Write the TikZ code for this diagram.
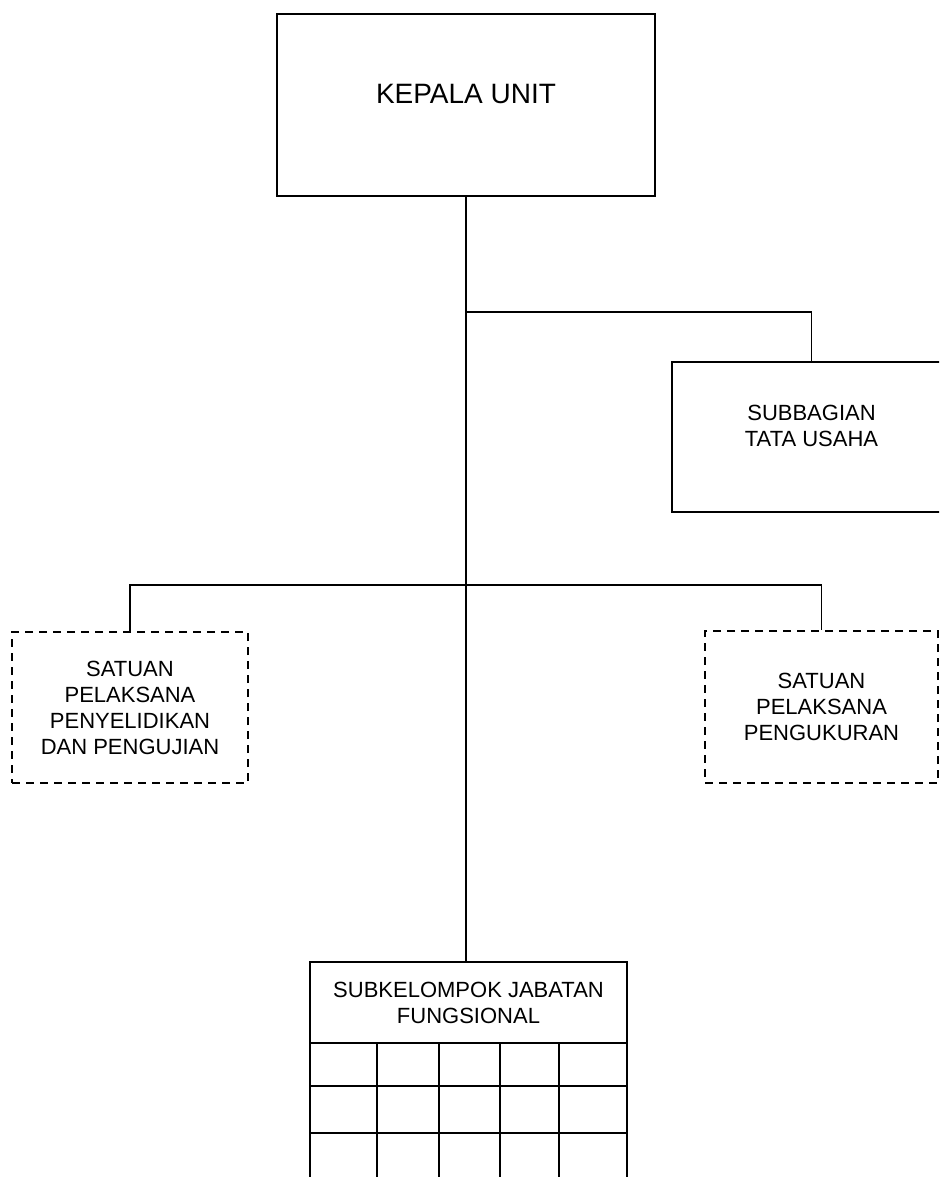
\documentclass[tikz,border=0pt]{standalone}
\usepackage{fontspec}
\setmainfont{Liberation Sans}

\tikzset{every picture/.style={line width=1.1pt}}
\tikzset{
  unitbox/.style={draw, inner sep=0pt},
  satbox/.style={draw, inner sep=0pt, dash pattern={on 6pt off 4.5pt}, align=center, font=\fontsize{16.5}{19.5}\selectfont},
  boxtext/.style={align=center, inner sep=0.75pt, font=\fontsize{16.5}{19.5}\selectfont}
}

\begin{document}
\begin{tikzpicture}[x=0.75pt,y=0.75pt,yscale=-1,xscale=1]
\useasboundingbox (0,0) rectangle (939,1177);
\clip (0,0) rectangle (939,1177);

%Shape: Rectangle [kepala]
\node [unitbox, minimum width=283.5pt, minimum height=136.5pt] (kepala) at (466,105) {};
% Text Node
\node [inner sep=0.75pt, font=\fontsize{21}{25}\selectfont] (kepalatxt) at (466,94) {KEPALA UNIT};

%Shape: Rectangle [subbagian]
\node [unitbox, minimum width=209.25pt, minimum height=112.5pt] (subbagian) at (811.5,437) {};
% Text Node
\node [boxtext] (subbagiantxt) at (811.5,426) {SUBBAGIAN\\TATA USAHA};

%Shape: Dashed Rectangle [penyelidikan]
\node [satbox, minimum width=177pt, minimum height=113.25pt] (penyelidikan) at (130,707.5) {SATUAN\\PELAKSANA\\PENYELIDIKAN\\DAN PENGUJIAN};
%Shape: Dashed Rectangle [pengukuran]
\node [satbox, minimum width=174.75pt, minimum height=114pt] (pengukuran) at (821.5,707) {SATUAN\\PELAKSANA\\PENGUKURAN};

%Shape: Rectangle [subkelompok]
\node [unitbox, boxtext, inner sep=0pt, draw, minimum width=237.75pt, minimum height=60.75pt] (subkelompok) at (468.5,1002.5) {SUBKELOMPOK JABATAN\\FUNGSIONAL};
%Grid below
\foreach \x in {310,377,439,500,559,627}
  \draw (\x,1043) -- (\x,1195);
\foreach \y in {1086,1133}
  \draw (310,\y) -- (627,\y);

%Straight Lines [main]
\draw (kepala.south) -- (kepala.south |- subkelompok.north);
\coordinate (cabangsub) at (466,312);
\draw (cabangsub) -| (subbagian.north);
\coordinate (cabangsat) at (466,585);
\draw (penyelidikan.north) |- (cabangsat) -| (pengukuran.north);

\end{tikzpicture}
\end{document}
